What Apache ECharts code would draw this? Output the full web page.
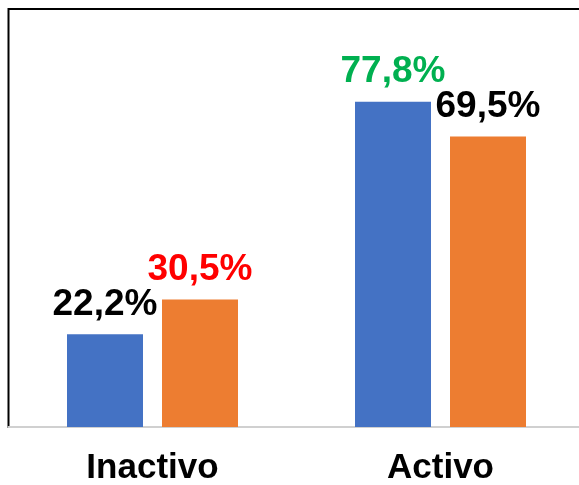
<!DOCTYPE html>
<html>
<head>
<meta charset="utf-8">
<script src="https://cdn.jsdelivr.net/npm/echarts@6/dist/echarts.min.js"></script>
<style>
  html, body { margin: 0; padding: 0; background: #fff; overflow: hidden; }
  #chart { width: 579px; height: 485px; }
</style>
</head>
<body>
<div id="chart"></div>
<script>
// categories and values (percent)
var categories = ["Inactivo", "Activo"];
var serieA = [22.2, 77.8];
var serieB = [30.5, 69.5];
// label colours per bar (reference highlights some values)
var colorsA = ["#000000", "#00B050"];
var colorsB = ["#FF0000", "#000000"];

function fmt(v) {
  return v.toFixed(1).replace(".", ",") + "%";
}

function buildData(values, labelColors) {
  return values.map(function (v, i) {
    return { value: v, label: { color: labelColors[i] } };
  });
}

var chart = echarts.init(document.getElementById("chart"));

var labelStyle = {
  show: true,
  position: "top",
  distance: 11,
  fontFamily: "Arial, 'Liberation Sans'",
  fontWeight: "bold",
  fontSize: 37,
  formatter: function (p) { return fmt(p.value); }
};

var option = {
  backgroundColor: "#fff",
  animation: false,
  grid: {
    left: 8.5,
    width: 576,
    top: 9,
    bottom: 58,
    outerBoundsMode: "none",
    containLabel: false,
    show: true,
    borderColor: "#000",
    borderWidth: 2
  },
  xAxis: {
    type: "category",
    data: categories,
    axisLine: { lineStyle: { color: "#D0D0D0", width: 2 } },
    axisTick: { show: false },
    axisLabel: {
      margin: 24,
      color: "#000",
      fontFamily: "Arial, 'Liberation Sans'",
      fontWeight: "bold",
      fontSize: 35
    }
  },
  yAxis: {
    type: "value",
    min: 0,
    max: 100,
    show: false,
    splitLine: { show: false }
  },
  series: [
    {
      name: "A",
      type: "bar",
      barWidth: 76,
      barGap: "25%",
      itemStyle: { color: "#4472C4" },
      label: labelStyle,
      data: buildData(serieA, colorsA)
    },
    {
      name: "B",
      type: "bar",
      barWidth: 76,
      itemStyle: { color: "#ED7D31" },
      label: labelStyle,
      data: buildData(serieB, colorsB)
    }
  ]
};

chart.setOption(option);
</script>
</body>
</html>
